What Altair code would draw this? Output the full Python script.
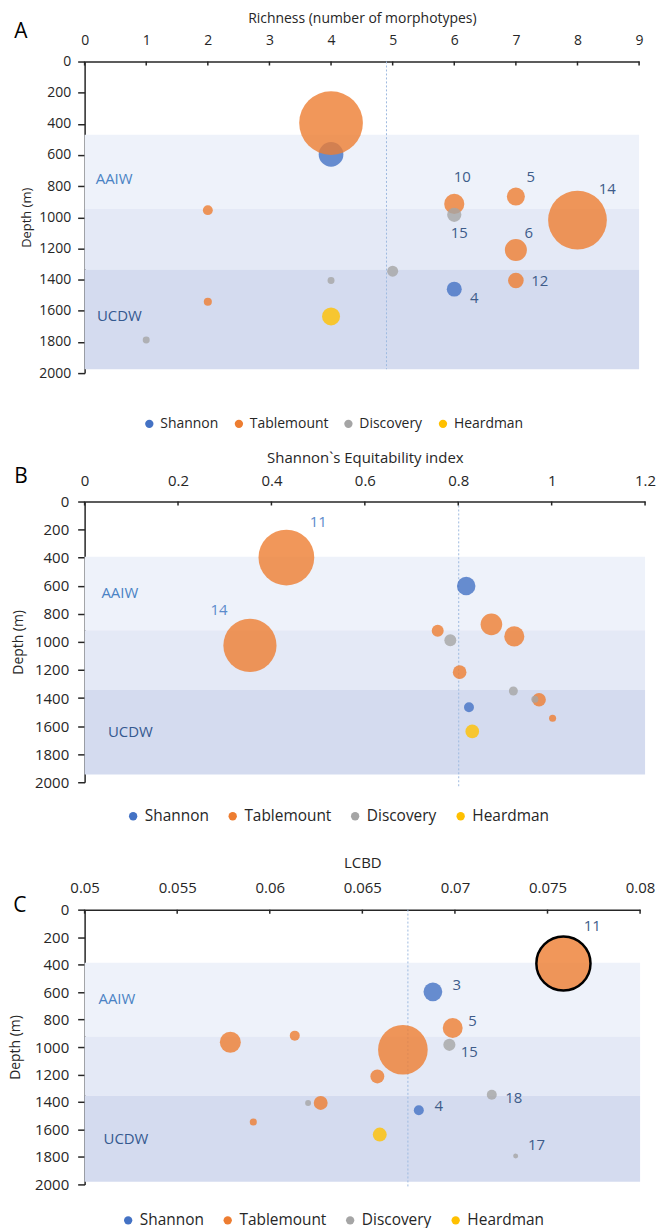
import altair as alt
import pandas as pd

FONT = "Open Sans"
SITES = ["Shannon", "Tablemount", "Discovery", "Heardman"]
SITE_COLORS = ["#4472C4", "#ED7D31", "#A5A5A5", "#FFC000"]
BAND_FILLS = ["#EEF2FA", "#E4E9F6", "#D4DBEF"]
DEPTH_TICKS = list(range(0, 2001, 200))

# ---------------- A: richness ----------------
a_site = ["Tablemount", "Shannon", "Tablemount", "Tablemount", "Tablemount", "Discovery",
          "Tablemount", "Tablemount", "Discovery", "Discovery", "Tablemount", "Shannon",
          "Tablemount", "Heardman", "Discovery"]
a_richness = [4, 4, 2, 6, 7, 6, 8, 7, 5, 4, 7, 6, 2, 4, 1]
a_depth = [395, 596, 954, 914, 867, 984, 1018, 1210, 1346, 1406, 1406, 1461, 1542, 1636, 1787]
a_abundance = [100, 15, 2.4, 10, 8, 5, 85, 12, 3, 1.2, 6, 5.5, 1.6, 8, 1.2]
a_label = ["", "", "", "10", "5", "15", "14", "6", "", "", "12", "4", "", "", ""]
a_ticks = [0, 1, 2, 3, 4, 5, 6, 7, 8, 9]
a_mean = 4.9
a_band_top = [470, 946, 1335]
a_band_bottom = [946, 1335, 1975]

# ---------------- B: Shannon's equitability ----------------
b_site = ["Tablemount", "Tablemount", "Shannon", "Tablemount", "Tablemount", "Tablemount",
          "Discovery", "Tablemount", "Discovery", "Discovery", "Tablemount", "Shannon",
          "Tablemount", "Heardman"]
b_equitability = [0.432, 0.354, 0.817, 0.871, 0.920, 0.756, 0.783, 0.803, 0.918, 0.964,
                  0.973, 0.823, 1.002, 0.830]
b_depth = [399, 1025, 602, 875, 961, 921, 989, 1216, 1350, 1409, 1412, 1466, 1544, 1638]
b_abundance = [100, 91, 11, 15, 13, 4.6, 4.6, 6, 2.6, 1.6, 6, 3.2, 1.6, 6]
b_label = ["11", "14", "", "", "", "", "", "", "", "", "", "", "", ""]
b_ticks = [0, 0.2, 0.4, 0.6, 0.8, 1.0, 1.2]
b_mean = 0.801
b_band_top = [394, 918, 1343]
b_band_bottom = [918, 1343, 1945]

# ---------------- C: LCBD ----------------
c_site = ["Tablemount", "Shannon", "Tablemount", "Discovery", "Tablemount", "Tablemount",
          "Discovery", "Shannon", "Heardman", "Discovery", "Tablemount", "Tablemount",
          "Discovery", "Tablemount", "Tablemount"]
c_lcbd = [0.07586, 0.06881, 0.06988, 0.06970, 0.06719, 0.06581, 0.07199, 0.06805, 0.06594,
          0.07328, 0.05787, 0.06135, 0.06207, 0.06275, 0.05911]
c_depth = [392, 598, 861, 984, 1020, 1214, 1347, 1460, 1637, 1794, 965, 917, 1407, 1407, 1545]
c_abundance = [100, 12, 13.5, 5, 84, 6.6, 3.4, 3.4, 6.6, 0.85, 15, 3.4, 1.2, 6.6, 1.7]
c_label = ["11", "3", "5", "15", "", "", "18", "4", "", "17", "", "", "", "", ""]
c_ticks = [0.05, 0.055, 0.06, 0.065, 0.07, 0.075, 0.08]
c_mean = 0.06746
c_band_top = [387, 924, 1354]
c_band_bottom = [924, 1354, 1980]
c_outlined = ["11"]

INK = "#262626"


def panel(letter, xs, depths, sites, abundance, labels, xtitle, ticks, xfmt, mean_x,
          band_top, band_bottom, band_label_x, band_label_depth, label_offsets,
          label_color, size_max, fs, legend_x, legend_y, legend_fs, legend_pad,
          letter_xy, title_pad, label_pad, y_label_pad, y_title_pad, rule_end,
          width, height, outlined=()):
    df = pd.DataFrame({"x": xs, "depth": depths, "site": sites, "abundance": abundance,
                       "label": labels})
    df["order"] = [SITES.index(s) for s in sites]
    xdom = [ticks[0], ticks[-1]]
    xscale = alt.Scale(domain=xdom, nice=False, zero=False)
    yscale = alt.Scale(domain=[0, 2000], reverse=True, nice=False)
    xaxis = alt.Axis(orient="top", values=ticks, format=xfmt, title=xtitle,
                     ticks=False, labelPadding=label_pad, titlePadding=title_pad,
                     labelFont=FONT, titleFont=FONT, labelFontSize=fs,
                     titleFontSize=fs, titleFontWeight="normal",
                     labelColor=INK, titleColor=INK,
                     domainColor=INK, domainWidth=1.5, grid=False,
                     labelFlush=False, labelOverlap=False)
    yaxis = alt.Axis(values=DEPTH_TICKS, format="d", title="Depth (m)",
                     tickSize=7, tickColor=INK, tickWidth=1.5,
                     labelPadding=y_label_pad, titlePadding=y_title_pad, labelFont=FONT,
                     titleFont=FONT, labelFontSize=fs, titleFontSize=fs - 1,
                     titleFontWeight="normal", labelColor=INK,
                     titleColor=INK, domainColor=INK,
                     domainWidth=1.5, grid=False, labelFlush=False,
                     labelOverlap=False)

    def X(field):
        return alt.X(field, scale=xscale, axis=xaxis, title=xtitle)

    def Y(field):
        return alt.Y(field, scale=yscale, axis=yaxis, title="Depth (m)")

    bands = pd.DataFrame({"top": band_top, "bottom": band_bottom, "fill": BAND_FILLS,
                          "x0": [xdom[0]] * 3, "x1": [xdom[1]] * 3})
    band_layer = alt.Chart(bands).mark_rect().encode(
        x=X("x0:Q"), x2="x1:Q", y=Y("top:Q"), y2="bottom:Q",
        fill=alt.Fill("fill:N", scale=None),
    )

    water = pd.DataFrame({"name": ["AAIW", "UCDW"], "x": band_label_x,
                          "depth": band_label_depth, "col": ["#4A82C4", "#35598F"]})
    water_layer = alt.Chart(water).mark_text(
        align="left", baseline="middle", font=FONT, fontSize=15
    ).encode(
        x=X("x:Q"), y=Y("depth:Q"), text="name:N",
        color=alt.Color("col:N", scale=None),
    )

    mean_df = pd.DataFrame({"x": [mean_x], "d0": [0], "d1": [rule_end]})
    mean_layer = alt.Chart(mean_df).mark_rule(
        color="#9DB9E0", strokeWidth=1, strokeDash=[2, 2], clip=False
    ).encode(x=X("x:Q"), y=Y("d0:Q"), y2="d1:Q")

    # inward tick marks under the top axis line
    tick_df = pd.DataFrame({"x": ticks})
    tick_layer = alt.Chart(tick_df).mark_rule(color=INK, strokeWidth=1.5).encode(
        x=X("x:Q"), y=alt.value(0), y2=alt.value(4),
    )

    points = alt.Chart(df).mark_circle(opacity=0.8).encode(
        x=X("x:Q"),
        y=Y("depth:Q"),
        size=alt.Size("abundance:Q", scale=alt.Scale(domain=[0, 100], range=[0, size_max]),
                      legend=None),
        color=alt.Color("site:N", scale=alt.Scale(domain=SITES, range=SITE_COLORS),
                        legend=alt.Legend(title=None, orient="none", legendX=legend_x,
                                          legendY=legend_y, direction="horizontal",
                                          columns=4, symbolType="circle", symbolSize=70,
                                          symbolOpacity=1, labelFont=FONT,
                                          labelFontSize=legend_fs, labelColor=INK,
                                          labelOffset=4, columnPadding=legend_pad)),
        order=alt.Order("order:Q"),
    )

    layers = [band_layer, water_layer, mean_layer, points, tick_layer]

    if outlined:
        ring = alt.Chart(df).transform_filter(
            alt.FieldOneOfPredicate(field="label", oneOf=list(outlined))
        ).mark_point(filled=False, shape="circle", stroke="black", strokeWidth=2.5,
                     opacity=1).encode(
            x=X("x:Q"), y=Y("depth:Q"),
            size=alt.Size("abundance:Q", legend=None),
        )
        layers.append(ring)

    for lab, (dx, dy) in label_offsets.items():
        layers.append(
            alt.Chart(df).transform_filter(alt.datum.label == lab).mark_text(
                dx=dx, dy=dy, font=FONT, fontSize=15, color=label_color,
                align="center", baseline="middle"
            ).encode(x=X("x:Q"), y=Y("depth:Q"), text="label:N")
        )

    letter_layer = alt.Chart(pd.DataFrame({"t": [letter]})).mark_text(
        font=FONT, fontSize=21, color="black", align="center", baseline="middle"
    ).encode(text="t:N", x=alt.value(letter_xy[0]), y=alt.value(letter_xy[1]))
    layers.append(letter_layer)

    return alt.layer(*layers).properties(width=width, height=height)


panel_a = panel(
    "A", a_richness, a_depth, a_site, a_abundance, a_label,
    "Richness (number of morphotypes)", a_ticks, "d", a_mean,
    a_band_top, a_band_bottom, [0.18, 0.2], [754, 1634],
    {"10": (8, -27), "5": (15, -20), "14": (30, -31), "15": (5, 18), "6": (13, -17),
     "12": (24, 0), "4": (20, 9)},
    "#3E5C8A", 4096, 14, 58, 357, 14, 13, (-64, -30), 8, 14, 7, 5, 1975, 557, 313,
)

panel_b = panel(
    "B", b_equitability, b_depth, b_site, b_abundance, b_label,
    "Shannon`s Equitability index", b_ticks, "~g", b_mean,
    b_band_top, b_band_bottom, [0.036, 0.05], [652, 1645],
    {"11": (32, -36), "14": (-31, -36)},
    "#5B8BCB", 3136, 15, 41, 308, 15.5, 16, (-64, -25), 8, 13, 9, 9, 2030, 563, 282,
)

panel_c = panel(
    "C", c_lcbd, c_depth, c_site, c_abundance, c_label,
    "LCBD", c_ticks, "~g", c_mean,
    c_band_top, c_band_bottom, [0.05075, 0.05102], [653, 1673],
    {"11": (29, -38), "3": (24, -7), "5": (20, -7), "15": (20, 7), "18": (22, 3),
     "4": (20, -4), "17": (21, -11)},
    "#3E5C8A", 2960, 15, 36, 304, 15.5, 16, (-65, -4), 10, 14, 9, 12, 2020, 558, 276,
    outlined=c_outlined,
)

upper = alt.vconcat(panel_a, panel_b, spacing=20).resolve_scale(
    color="independent", size="independent"
).resolve_legend(color="independent")

chart = alt.vconcat(upper, panel_c, spacing=31).resolve_scale(
    color="independent", size="independent"
).resolve_legend(
    color="independent"
).properties(
    padding={"left": 8, "top": 9, "right": 3, "bottom": 0}
).configure_view(strokeWidth=0)

chart.save("out.html", embed_options={"renderer": "svg", "actions": False})
